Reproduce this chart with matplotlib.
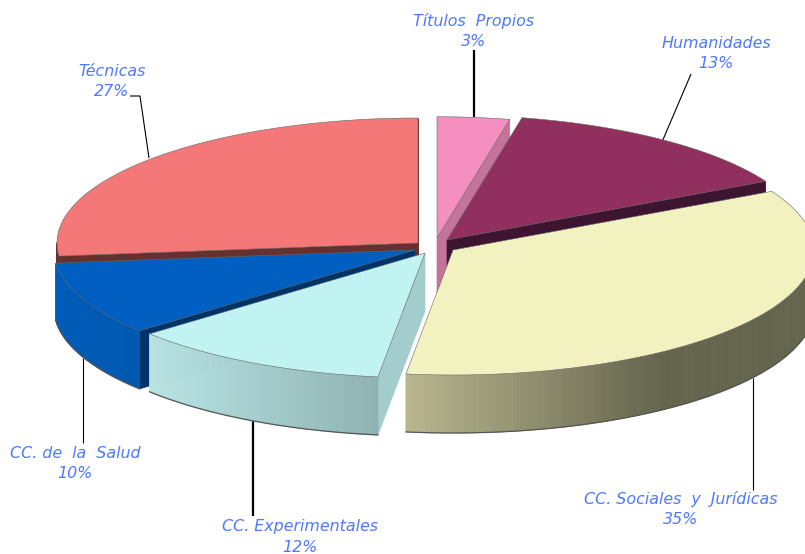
import numpy as np
import matplotlib
matplotlib.use("Agg")
import matplotlib.pyplot as plt
from matplotlib.colors import to_rgb
from matplotlib.patches import Polygon

labels = ["Títulos  Propios", "Humanidades", "CC. Sociales  y  Jurídicas",
          "CC. Experimentales", "CC. de  la  Salud", "Técnicas"]
values = [3, 13, 35, 12, 10, 27]                      # printed percentages
slice_shares = [3.33, 13.89, 34.86, 11.73, 9.52, 26.67]  # drawn shares

top_colors = ["#f48fc0", "#91305f", "#f2f1c0", "#c0f3f2", "#005fc0", "#f47878"]
cut_colors = ["#c4739a", "#3e1530", "#6a6a50", "#a3cccc", "#003468", "#66302f"]
wall_left = ["#c4739a", "#3e1530", "#b9b78f", "#b9e4e4", "#005cb8", "#66302f"]
wall_right = ["#c4739a", "#3e1530", "#65654e", "#8fb2b2", "#0058b0", "#66302f"]
wall_speed = [1, 1, 1.6, 1, 1, 1]
radius_scale = [0.97, 1, 1, 1, 1, 1]
tips = [(437, 238), (447, 240), (453, 250), (425, 253), (415, 250), (418, 243)]
label_xy = [(474, 21), (716, 43), (681, 499), (300, 527), (75, 453), (112, 71)]
leaders = [[(474, 50), (474, 117)], [(691, 74), (662, 142)], [(753, 378), (753, 490)],
           [(253, 420), (253, 516)], [(83, 358), (83, 443)], [(130, 96), (140, 96), (149, 158)]]
leader_w = [2, 1, 1, 2, 1, 1]
draw_order = [0, 5, 1, 4, 2, 3]

A, B, DEPTH = 361, 125, 58

fig = plt.figure(figsize=(8.05, 5.54), dpi=100)
ax = fig.add_axes([0, 0, 1, 1])
ax.set_xlim(0, 805)
ax.set_ylim(554, 0)
ax.axis("off")

edges = np.cumsum([0] + slice_shares) * 360.0 / sum(slice_shares)


def rim(th, ox, oy, s):
    r = np.radians(th)
    return ox + s * A * np.sin(r), oy - s * B * np.cos(r)


def blend(c1, c2, t):
    a, b = np.array(to_rgb(c1)), np.array(to_rgb(c2))
    return a + (b - a) * t


def draw_slice(i, z):
    a0, a1 = edges[i], edges[i + 1]
    ox, oy = tips[i]
    s = radius_scale[i]
    th = np.linspace(a0, a1, 200)
    x, y = rim(th, ox, oy, s)
    # cut faces that look toward the viewer
    for sgn, ang in ((-1, a0), (1, a1)):
        ex, ey = rim(ang, ox, oy, s)
        if -np.cos(np.radians(ang + sgn * 90)) > -0.02:
            ax.add_patch(Polygon([(ox, oy), (ex, ey), (ex, ey + DEPTH), (ox, oy + DEPTH)],
                                 closed=True, fc=cut_colors[i], ec=cut_colors[i], lw=0.5, zorder=z))
    # outer wall with a horizontal gradient
    xl, xr = x.min(), x.max()
    for j in range(len(th) - 1):
        if 90 <= (th[j] % 360) <= 270:
            t = (x[j] - xl) / (xr - xl)
            col = blend(wall_left[i], wall_right[i], min(1, t * wall_speed[i]))
            ax.add_patch(Polygon([(x[j], y[j]), (x[j + 1], y[j + 1]),
                                  (x[j + 1], y[j + 1] + DEPTH), (x[j], y[j] + DEPTH)],
                                 closed=True, fc=col, ec=col, lw=0.6, zorder=z + 0.1))
    vis = (th % 360 >= 90) & (th % 360 <= 270)
    if vis.any():
        ax.plot(x[vis], y[vis] + DEPTH, color="#555555", lw=0.9, zorder=z + 0.1)
    # top
    ax.add_patch(Polygon(np.vstack([[ox, oy], np.column_stack([x, y])]), closed=True,
                         fc=top_colors[i], ec="#666666", lw=0.4, zorder=z + 0.2))


for pts, w in zip(leaders, leader_w):
    ax.plot(*zip(*pts), color="black", lw=w * 0.8, zorder=0, solid_capstyle="butt")

for rank, i in enumerate(draw_order):
    draw_slice(i, rank + 1)

for lab, val, (lx, ly) in zip(labels, values, label_xy):
    ax.text(lx, ly, lab, color="#4f78ff", style="italic", family="DejaVu Sans",
            fontsize=11.4, ha="center", va="center", zorder=40)
    ax.text(lx, ly + 20.5, f"{val}%", color="#4f78ff", style="italic", family="DejaVu Sans",
            fontsize=11.4, ha="center", va="center", zorder=40)

fig.savefig("out.png", dpi=100, facecolor="white")
